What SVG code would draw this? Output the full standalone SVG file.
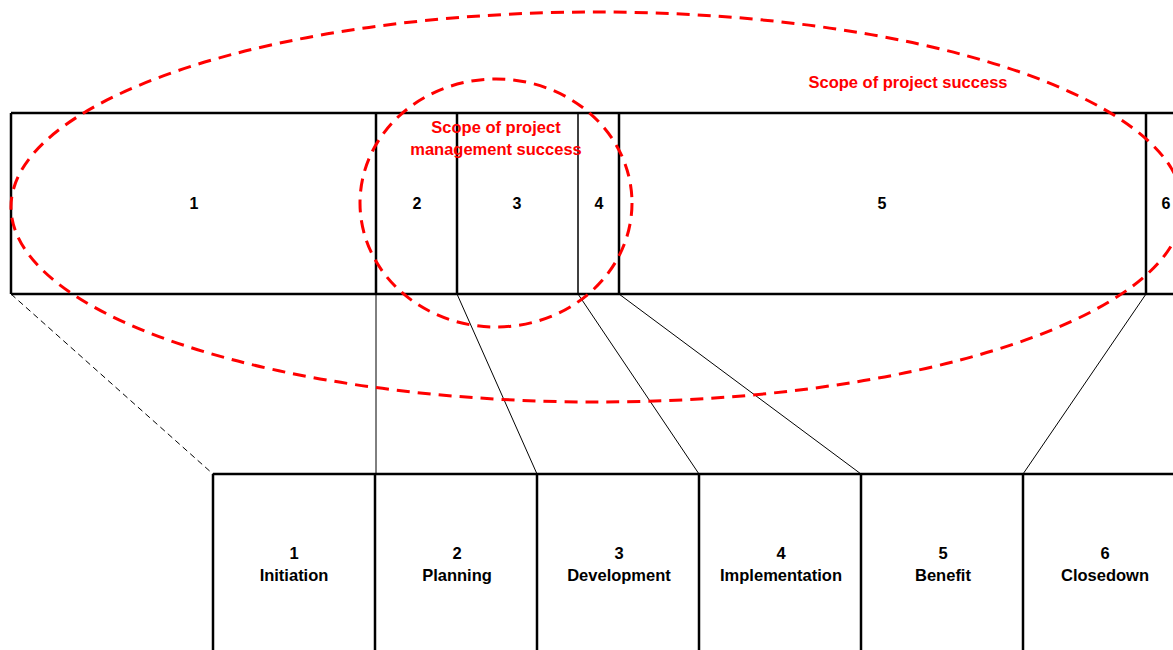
<svg xmlns="http://www.w3.org/2000/svg" width="1173" height="650" viewBox="0 0 1173 650">
<style>
.frame{fill:none;stroke:#000;stroke-width:2.5}
.thin{fill:none;stroke:#000;stroke-width:1.5}
.conn{fill:none;stroke:#000;stroke-width:1}
.scope{fill:none;stroke:#ff0000;stroke-width:3;stroke-dasharray:13 8}
.num{font-family:"Liberation Sans",Arial,sans-serif;font-weight:bold;font-size:16px;fill:#000;text-anchor:middle}
.lbl{font-family:"Liberation Sans",Arial,sans-serif;font-weight:bold;font-size:16.5px;fill:#000;text-anchor:middle}
.red{font-family:"Liberation Sans",Arial,sans-serif;font-weight:bold;font-size:16.5px;fill:#ff0000;text-anchor:middle}
</style>
<rect width="1173" height="650" fill="#fff"/>
<g id="strip">
<line class="frame" x1="11" y1="113" x2="1173" y2="113"/>
<line class="frame" x1="11" y1="294" x2="1173" y2="294"/>
<line class="frame" x1="11" y1="113" x2="11" y2="294"/>
<line class="frame" x1="376" y1="113" x2="376" y2="294"/>
<line class="frame" x1="457" y1="113" x2="457" y2="294"/>
<line class="thin" x1="578" y1="113" x2="578" y2="294"/>
<line class="frame" x1="619" y1="113" x2="619" y2="294"/>
<line class="frame" x1="1146" y1="113" x2="1146" y2="294"/>
</g>
<g id="seg1"><text class="num" x="194" y="209">1</text></g>
<g id="seg2"><text class="num" x="417" y="209">2</text></g>
<g id="seg3"><text class="num" x="517" y="209">3</text></g>
<g id="seg4"><text class="num" x="599" y="209">4</text></g>
<g id="seg5"><text class="num" x="882" y="209">5</text></g>
<g id="seg6"><text class="num" x="1166" y="209">6</text></g>
<g id="connectors">
<line class="conn" x1="11" y1="294" x2="213" y2="474" stroke-dasharray="6 4"/>
<line class="conn" x1="376" y1="294" x2="376" y2="474"/>
<line class="conn" x1="457" y1="294" x2="537" y2="474"/>
<line class="conn" x1="578" y1="294" x2="699" y2="474"/>
<line class="conn" x1="619" y1="294" x2="861" y2="474"/>
<line class="conn" x1="1146" y1="294" x2="1023" y2="474"/>
</g>
<g id="phases">
<line class="frame" x1="213" y1="474" x2="1173" y2="474"/>
<line class="frame" x1="213" y1="474" x2="213" y2="650"/>
<line class="frame" x1="375" y1="474" x2="375" y2="650"/>
<line class="frame" x1="537" y1="474" x2="537" y2="650"/>
<line class="frame" x1="699" y1="474" x2="699" y2="650"/>
<line class="frame" x1="861" y1="474" x2="861" y2="650"/>
<line class="frame" x1="1023" y1="474" x2="1023" y2="650"/>
</g>
<g id="phase1"><text class="lbl" x="294" y="559">1</text><text class="lbl" x="294" y="581">Initiation</text></g>
<g id="phase2"><text class="lbl" x="457" y="559">2</text><text class="lbl" x="457" y="581">Planning</text></g>
<g id="phase3"><text class="lbl" x="619" y="559">3</text><text class="lbl" x="619" y="581">Development</text></g>
<g id="phase4"><text class="lbl" x="781" y="559">4</text><text class="lbl" x="781" y="581">Implementation</text></g>
<g id="phase5"><text class="lbl" x="943" y="559">5</text><text class="lbl" x="943" y="581">Benefit</text></g>
<g id="phase6"><text class="lbl" x="1105" y="559">6</text><text class="lbl" x="1105" y="581">Closedown</text></g>
<g id="project-success">
<ellipse class="scope" cx="597" cy="207" rx="586" ry="195"/>
<text class="red" x="908" y="88">Scope of project success</text>
</g>
<g id="pm-success">
<ellipse class="scope" cx="496" cy="203" rx="136" ry="124"/>
<text class="red" x="496" y="133">Scope of project</text>
<text class="red" x="496" y="155">management success</text>
</g>
</svg>
